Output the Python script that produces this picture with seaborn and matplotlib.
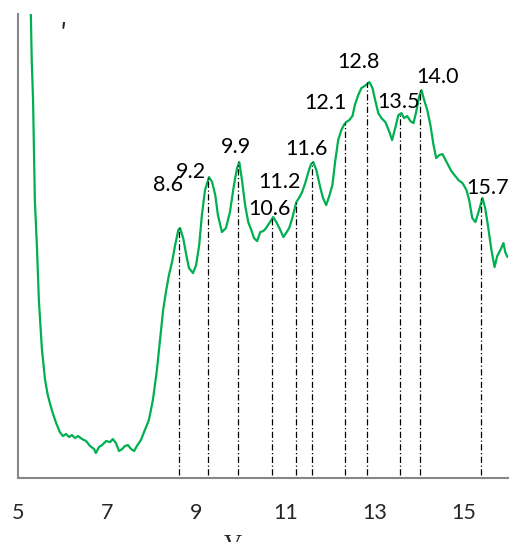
import matplotlib
matplotlib.use("Agg")
import matplotlib.pyplot as plt
import numpy as np
import pandas as pd
import seaborn as sns

# curve (x in V, y in arbitrary intensity units)
x_curve = [5.28, 5.29, 5.31, 5.34, 5.36, 5.38, 5.43, 5.47, 5.54, 5.61, 5.67, 5.76, 5.85, 5.94,
           6.01, 6.08, 6.15, 6.21, 6.28, 6.35, 6.44, 6.53, 6.62, 6.71, 6.75, 6.82, 6.89, 6.98,
           7.07, 7.13, 7.20, 7.27, 7.34, 7.40, 7.47, 7.54, 7.61, 7.67, 7.76, 7.85, 7.94, 8.03,
           8.12, 8.19, 8.26, 8.33, 8.39, 8.46, 8.53, 8.60, 8.64, 8.71, 8.78, 8.84, 8.93, 9.00,
           9.07, 9.13, 9.20, 9.29, 9.36, 9.43, 9.49, 9.58, 9.67, 9.76, 9.85, 9.92, 9.97, 10.03,
           10.10, 10.17, 10.24, 10.30, 10.37, 10.44, 10.51, 10.57, 10.66, 10.73, 10.80, 10.87,
           10.96, 11.02, 11.09, 11.16, 11.25, 11.31, 11.38, 11.45, 11.52, 11.58, 11.63, 11.70,
           11.79, 11.85, 11.92, 11.99, 12.06, 12.12, 12.19, 12.26, 12.33, 12.37, 12.44, 12.51,
           12.57, 12.64, 12.71, 12.78, 12.84, 12.89, 12.96, 13.02, 13.09, 13.16, 13.25, 13.34,
           13.40, 13.47, 13.54, 13.61, 13.67, 13.74, 13.81, 13.88, 13.94, 14.01, 14.06, 14.12,
           14.19, 14.26, 14.33, 14.39, 14.46, 14.53, 14.60, 14.66, 14.73, 14.80, 14.89, 14.98,
           15.07, 15.13, 15.20, 15.27, 15.34, 15.43, 15.49, 15.56, 15.63, 15.70, 15.76, 15.83,
           15.90, 15.94, 15.99]
y_curve = [498, 464, 418, 378, 328, 278, 228, 178, 128, 98, 83, 68, 56, 46,
           42, 44, 41, 43, 40, 42, 39, 37, 32, 29, 25, 31, 33, 37,
           36, 39, 35, 27, 29, 32, 33, 29, 27, 32, 38, 48, 58, 78,
           108, 138, 168, 188, 203, 216, 233, 248, 250, 240, 223, 210, 205, 213,
           233, 263, 288, 301, 296, 283, 263, 246, 250, 266, 293, 310, 316, 298,
           273, 256, 248, 240, 237, 246, 247, 250, 256, 261, 256, 250,
           241, 245, 250, 260, 276, 280, 286, 295, 306, 314, 316, 308,
           290, 280, 273, 282, 293, 316, 338, 348, 354, 356, 358, 362,
           374, 383, 390, 392, 394, 396, 390, 378, 365, 360, 356, 346,
           338, 350, 363, 365, 360, 362, 357, 355, 366, 382, 388, 378,
           368, 353, 333, 320, 323, 324, 318, 313, 307, 303, 298, 295,
           288, 278, 260, 256, 266, 280, 270, 250, 228, 211, 222, 228,
           235, 226, 221]

# marked peaks
peak_x = [8.62, 9.27, 9.94, 10.70, 11.24, 11.61, 12.35, 12.84, 13.58, 14.03, 15.40]
peak_y = [250, 301, 316, 261, 276, 316, 355, 396, 365, 388, 280]
peak_labels = ["8.6", "9.2", "9.9", "10.6", "11.2", "11.6", "12.1", "12.8", "13.5", "14.0", "15.7"]
label_x = [8.37, 8.89, 9.90, 10.64, 10.87, 11.47, 11.90, 12.64, 13.54, 14.42, 15.54]
label_y = [293, 306, 331, 269, 296, 329, 375, 416, 376, 401, 290]

xticks = [5, 7, 9, 11, 13, 15]

sns.set_style("white")
plt.rcParams["font.family"] = ["Lato", "DejaVu Sans"]

df = pd.DataFrame({"V": x_curve, "I": y_curve})

fig = plt.figure(figsize=(5.12, 5.42), dpi=100)
ax = fig.add_axes([0.035, 0.118, 0.957, 0.856])

sns.lineplot(data=df, x="V", y="I", sort=False, estimator=None,
             color="#00B050", linewidth=1.6, ax=ax)

ax.vlines(peak_x, 3, peak_y, colors="black", linewidth=0.9,
          linestyles=[(0, (5, 2, 1, 2))])
for lx, ly, t in zip(label_x, label_y, peak_labels):
    ax.text(lx, ly, t, ha="center", va="center", fontsize=15.5, color="black")

ax.set_xlim(5, 16)
ax.set_ylim(0, 464)
ax.set_xticks(xticks)
ax.set_xticklabels([str(t) for t in xticks], fontsize=15.5)
ax.set_yticks([])
ax.set_xlabel("")
ax.set_ylabel("")
ax.tick_params(axis="x", direction="out", length=6, width=1.5, color="#878787", pad=12)
for s in ["top", "right"]:
    ax.spines[s].set_visible(False)
for s in ["left", "bottom"]:
    ax.spines[s].set_color("#878787")
    ax.spines[s].set_linewidth(1.5)

fig.text(62 / 512, 1 - 35 / 542, "'", fontsize=20, ha="center", va="center", style="italic")
fig.text(233 / 512, 1 - 535 / 542, "V", fontsize=18, ha="center", va="top",
         family="Liberation Serif")

fig.savefig("out.png", dpi=100)
